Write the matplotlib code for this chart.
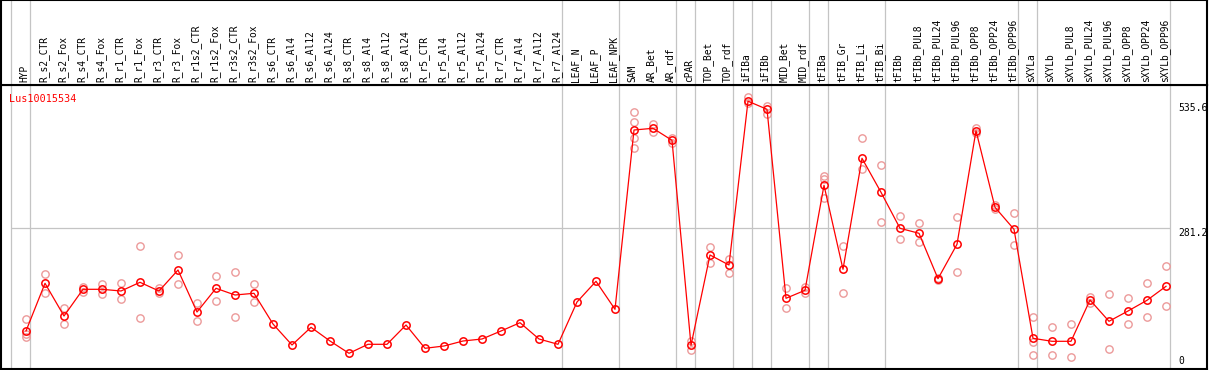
import matplotlib
matplotlib.use("Agg")
import matplotlib.pyplot as plt

gene = "Lus10015534"

labels = ["HYP", "R_s2_CTR", "R_s2_Fox", "R_s4_CTR", "R_s4_Fox", "R_r1_CTR", "R_r1_Fox",
          "R_r3_CTR", "R_r3_Fox", "R_r1s2_CTR", "R_r1s2_Fox", "R_r3s2_CTR", "R_r3s2_Fox",
          "R_s6_CTR", "R_s6_Al4", "R_s6_Al12", "R_s6_Al24", "R_s8_CTR", "R_s8_Al4",
          "R_s8_Al12", "R_s8_Al24", "R_r5_CTR", "R_r5_Al4", "R_r5_Al12", "R_r5_Al24",
          "R_r7_CTR", "R_r7_Al4", "R_r7_Al12", "R_r7_Al24", "LEAF_N", "LEAF_P", "LEAF_NPK",
          "SAM", "AR_Bet", "AR_rdf", "cPAR", "TOP_Bet", "TOP_rdf", "iFIBa", "iFIBb",
          "MID_Bet", "MID_rdf", "tFIBa", "tFIB_Gr", "tFIB_Li", "tFIB_Bi", "tFIBb",
          "tFIBb_PUL8", "tFIBb_PUL24", "tFIBb_PUL96", "tFIBb_OPP8", "tFIBb_OPP24",
          "tFIBb_OPP96", "sXYLa", "sXYLb", "sXYLb_PUL8", "sXYLb_PUL24", "sXYLb_PUL96",
          "sXYLb_OPP8", "sXYLb_OPP24", "sXYLb_OPP96"]

means = [76, 171.4, 106, 159.4, 159.4, 156, 173.4,
         156, 198, 114, 161.4, 148, 151.4,
         90, 48, 83.4, 56, 31.4, 49.4,
         49.4, 88, 41.4, 46, 56, 60,
         76, 92.6, 60, 49.4, 134, 175.4, 119.4,
         478, 481.4, 457.4, 47.4, 228, 208, 535.6, 519.4,
         141.4, 157.4, 367.4, 199.4, 421.4, 353.4, 281.4,
         271.4, 180.6, 249.4, 476.6, 323.4,
         279.4, 61.4, 55.4, 55.4, 138, 95.4,
         116, 137.4, 165.4]

reps = [[99.4, 70, 63.4], [189.4, 152.6], [121.4, 89.4], [164.6, 154.6], [169.4, 149.4],
        [171.4, 139.4], [246, 101.4], [162.6, 151.4], [228, 169.4], [132.6, 96],
        [186, 136], [194, 103.4], [170, 134],
        [], [], [], [], [], [], [], [], [], [], [], [], [], [], [], [], [], [], [],
        [513.4, 493.4, 461.4, 441.4], [489.4, 473.4], [462.6, 452.6], [56, 38],
        [243.4, 212.6], [220, 192.6], [543.4, 531.4], [526.6, 510],
        [161.4, 121.4], [163.4, 151.4], [386.6, 380, 341.4], [246, 151.4],
        [461.4, 400], [407.4, 293.4], [306, 260],
        [291.4, 253.4], [183, 178], [303.4, 193.4], [481.4, 472], [328, 320],
        [311.4, 247.4], [103.4, 54.6, 27.4], [83.4, 27.4], [89.4, 23.4], [143.4, 132.6],
        [149.4, 39.4], [141.4, 89.4], [171.4, 103.4], [205.4, 125.4]]

# last index of each sample group (grey separators)
group_ends = [-1, 0, 28, 31, 34, 35, 37, 38, 39, 41, 42, 45, 52, 53, 60]
ref_level = 281.2
top_level = 535.6

W, H = 1209, 370
fig = plt.figure(figsize=(W / 100, H / 100), dpi=100)
ax = fig.add_axes([1 / W, 1 - 369 / H, 1206 / W, 284 / H])
hd = fig.add_axes([1 / W, 1 - 85 / H, 1206 / W, 85 / H])

xlo, xhi = -25 / 19, 1181 / 19
for a in (ax, hd):
    a.set_xlim(xlo, xhi)
    a.set_xticks([])
    a.set_yticks([])
    for s in a.spines.values():
        s.set_linewidth(1.5)
        s.set_color("black")
    for g in group_ends:
        a.axvline(g + 0.21, color="#c4c4c4", lw=0.9, zorder=0)
ax.set_ylim(0, 568)
hd.set_ylim(0, 85)

for i, lab in enumerate(labels):
    hd.text(i - 0.08, 2.5, lab, rotation=90, ha="center", va="bottom",
            family="DejaVu Sans Mono", fontsize=6.9, color="black")

ax.hlines(ref_level, group_ends[0] + 0.21, group_ends[-1] + 0.21, color="#c4c4c4",
          lw=0.9, zorder=0)

xs = list(range(len(labels)))
for i, r in enumerate(reps):
    ax.plot([i] * len(r), r, "o", ms=5.3, mfc="none", mec="#ec9a9a", mew=1.0, zorder=2)
ax.plot(xs, means, "-", color="red", lw=0.9, zorder=3)
ax.plot(xs, means, "o", ms=5.3, mfc="none", mec="red", mew=1.1, zorder=4)

ax.text(60.63, top_level - 4, "535.6", ha="left", va="top", family="DejaVu Sans Mono",
        fontsize=7, color="black")
ax.text(60.63, ref_level, "281.2", ha="left", va="top", family="DejaVu Sans Mono",
        fontsize=7, color="black")
ax.text(60.63, 5, "0", ha="left", va="bottom", family="DejaVu Sans Mono",
        fontsize=7, color="black")
ax.text(-0.9, 535, gene, ha="left", va="baseline", family="DejaVu Sans Mono",
        fontsize=7.3, color="red")

fig.savefig("out.png", dpi=100)
